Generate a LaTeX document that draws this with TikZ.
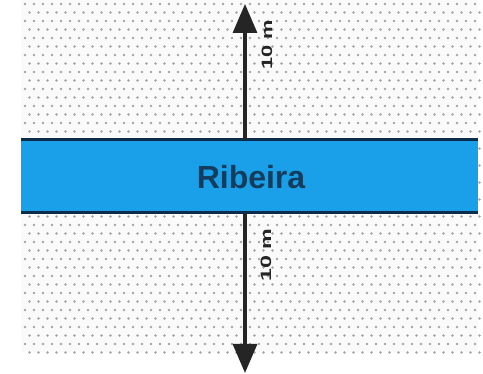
\documentclass[tikz,border=0pt]{standalone}
\usepackage{fontspec}
\setmainfont{Liberation Sans}
\usetikzlibrary{arrows.meta}
\definecolor{riverblue}{HTML}{1AA0E8}
\definecolor{rivernavy}{HTML}{0B2C4A}
\definecolor{textnavy}{HTML}{123D5E}
\definecolor{dotgray}{HTML}{A4A4AA}
\definecolor{arrowdark}{HTML}{252525}
\tikzset{
  band/.style={fill=riverblue, draw=none},
  bandedge/.style={draw=rivernavy, line width=3pt},
  dimarrow/.style={draw=arrowdark, line width=3.2pt, -{Triangle[width=24pt,length=29pt]}},
  dimlabel/.style={rotate=90, text=arrowdark, font=\bfseries\fontsize{15}{15}\selectfont, inner sep=0pt},
}
\begin{document}
\begin{tikzpicture}[x=1pt,y=-1pt]
\useasboundingbox (0,0) rectangle (483,374);
\fill[white] (0,0) rectangle (483,374);
% dotted ground
\fill[black!2] (21,0) rectangle (478,352);
\foreach \r in {0,...,41}{
  \pgfmathsetmacro{\yy}{4+\r*8.5}
  \pgfmathsetmacro{\off}{mod(\r,2)*4.5}
  \foreach \c in {0,...,50}{
    \fill[dotgray] ({25+\off+\c*9},\yy) circle (1.35);
  }
}
% river band
\fill[band] (21,140) rectangle (478,213);
\draw[bandedge] (21,140) -- (478,140);
\draw[bandedge] (21,213) -- (478,213);
\node[text=textnavy, font=\bfseries\fontsize{32}{32}\selectfont] (rib) at (251,177) {Ribeira};
% dimension arrows
\coordinate (top) at (245,4);
\coordinate (bot) at (245,373);
\coordinate (up0) at (245,140);
\coordinate (dn0) at (245,213);
\draw[dimarrow] (up0) -- (top);
\draw[dimarrow] (dn0) -- (bot);
\node[dimlabel] (l1) at (267,45) {\scalebox{1.45}[1]{10 m}};
\node[dimlabel] (l2) at (266,255) {\scalebox{1.55}[1]{10 m}};
\end{tikzpicture}
\end{document}
